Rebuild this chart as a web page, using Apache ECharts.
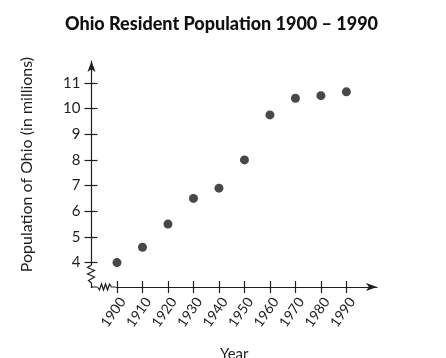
<!DOCTYPE html>
<html><head><meta charset="utf-8">
<script src="https://cdn.jsdelivr.net/npm/echarts@6/dist/echarts.min.js"></script>
<style>html,body{margin:0;padding:0;background:#fff}#c{width:446px;height:358px}</style>
</head><body><div id="c"></div>
<script>
const years = [1900,1910,1920,1930,1940,1950,1960,1970,1980,1990];
const population = [4.0,4.6,5.5,6.5,6.9,8.0,9.75,10.4,10.5,10.65];
const yTicks = [4,5,6,7,8,9,10,11];
const xTicks = years;
const FONT = 'Lato';
const INK = '#1f1f1f';
const chart = echarts.init(document.getElementById('c'), null, {renderer:'canvas'});
const X_MIN = 1890, X_MAX = 2002, Y_MIN = 3.05, Y_MAX = 11.85;
const gridBox = {left:91.5, right:69, top:61, bottom:71, containLabel:false, outerBoundsMode:'none'};
const option = {
  animation:false,
  backgroundColor:'#fff',
  title:{text:'Ohio Resident Population 1900 \u2013 1990', left:60, top:10,
    textStyle:{fontFamily:FONT, fontWeight:900, fontSize:18, color:'#111'}},
  grid:[Object.assign({}, gridBox), Object.assign({}, gridBox)],
  xAxis:[{
    type:'value', gridIndex:0, min:X_MIN, max:X_MAX,
    name:'Year', nameLocation:'middle', nameGap:60,
    nameTextStyle:{fontFamily:FONT, fontSize:15, color:INK},
    axisLine:{show:true, onZero:false, symbol:['none','arrow'], symbolSize:[6,11], lineStyle:{color:INK, width:1.2}},
    axisTick:{show:true, inside:false, length:6, customValues:xTicks, lineStyle:{color:INK, width:1.2}},
    axisLabel:{show:true, customValues:xTicks, rotate:55, margin:8, verticalAlign:'top', fontFamily:FONT, fontSize:14, color:INK, formatter:v=>String(v)},
    splitLine:{show:false}
  },{
    type:'value', gridIndex:1, min:X_MIN, max:X_MAX,
    axisLine:{show:false}, axisLabel:{show:false}, splitLine:{show:false},
    axisTick:{show:true, inside:true, length:6, customValues:xTicks, lineStyle:{color:INK, width:1.2}}
  }],
  yAxis:[{
    type:'value', gridIndex:0, min:Y_MIN, max:Y_MAX,
    name:'Population of Ohio (in millions)', nameLocation:'middle', nameGap:57,
    nameTextStyle:{fontFamily:FONT, fontSize:16, color:INK, padding:[0,0,0,19]},
    axisLine:{show:true, onZero:false, symbol:['none','arrow'], symbolSize:[6,11], lineStyle:{color:INK, width:1.2}},
    axisTick:{show:true, inside:false, length:7, customValues:yTicks, lineStyle:{color:INK, width:1.2}},
    axisLabel:{show:true, customValues:yTicks, margin:11, fontFamily:FONT, fontSize:15, color:INK},
    splitLine:{show:false}
  },{
    type:'value', gridIndex:1, min:Y_MIN, max:Y_MAX,
    axisLine:{show:false}, axisLabel:{show:false}, splitLine:{show:false},
    axisTick:{show:true, inside:true, length:6, customValues:yTicks, lineStyle:{color:INK, width:1.2}}
  }],
  series:[{
    type:'scatter', xAxisIndex:0, yAxisIndex:0,
    data: years.map((y,i)=>[y, population[i]]),
    symbol:'circle', symbolSize:9, itemStyle:{color:'#1a1a1a'}
  }]
};
chart.setOption(option);
// axis break decorations (zigzags) placed relative to the axes' corner
const corner = chart.convertToPixel({gridIndex:0}, [X_MIN, Y_MIN]);
const cx = corner[0], cy = corner[1];
const yz = [[cx,cy-22],[cx-4,cy-19.5],[cx+3,cy-16.5],[cx-4,cy-13],[cx+3,cy-10],[cx-3,cy-6.5],[cx,cy-4],[cx,cy],[cx+6,cy]];
const xz = [[cx+6,cy],[cx+8,cy+3],[cx+10,cy-3],[cx+12,cy+3],[cx+14,cy-3],[cx+16,cy+3],[cx+18,cy-3],[cx+20,cy],[cx+24,cy]];
chart.setOption({graphic:[
  {type:'rect', z:100, shape:{x:cx-6, y:cy-22, width:12, height:21}, style:{fill:'#fff'}},
  {type:'rect', z:100, shape:{x:cx+1, y:cy-4, width:23, height:3}, style:{fill:'#fff'}},
  {type:'rect', z:100, shape:{x:cx+1, y:cy-1, width:23, height:2}, style:{fill:'#fff'}},
  {type:'polyline', z:101, shape:{points:yz}, style:{stroke:INK, lineWidth:1.2, fill:null}},
  {type:'polyline', z:101, shape:{points:xz}, style:{stroke:INK, lineWidth:1.2, fill:null}}
]});
</script></body></html>
